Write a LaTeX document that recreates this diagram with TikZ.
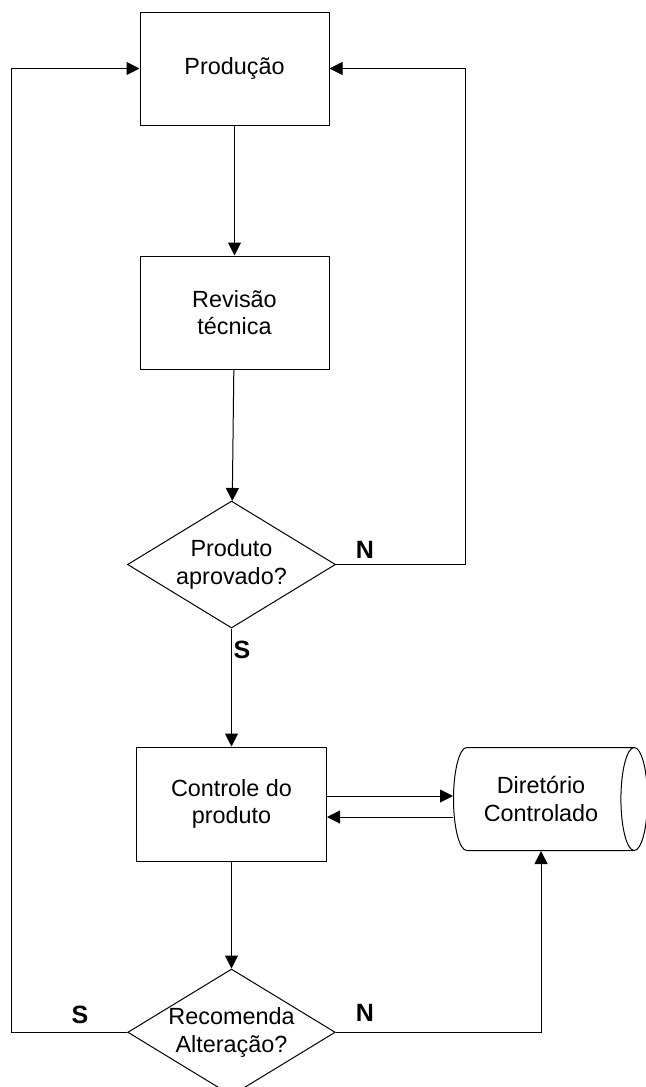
\documentclass[tikz,border=0pt]{standalone}
\usepackage{fontspec}
\setmainfont{Liberation Sans}
\usetikzlibrary{shapes,arrows,positioning,shapes.geometric,arrows.meta,calc}

\begin{document}
\begin{tikzpicture}[
    >={Triangle[length=6.5pt,width=6.5pt]},
    x=0.5pt, y=-0.5pt,
    line width=0.5pt,
    etapa/.style={rectangle, draw=black, fill=white, align=center, minimum width=94.5pt, minimum height=56.5pt, font=\fontsize{11.7}{13.85}\selectfont},
    decisao/.style={diamond, draw=black, fill=white, align=center, aspect=1.64, inner sep=0pt, minimum width=104pt, minimum height=63.5pt, font=\fontsize{11.7}{13.85}\selectfont},
    arquivo/.style={cylinder, draw=black, fill=white, align=center, aspect=0.5, inner sep=2pt, minimum height=97pt, minimum width=51.5pt, font=\fontsize{11.7}{13.85}\selectfont},
    rotulo/.style={font=\fontsize{12.5}{14}\selectfont\bfseries, inner sep=0pt},
    node distance=65pt
  ]
    \useasboundingbox (0,0) rectangle (645,1087);

    \node[etapa] (prod) at (234.5,68.5) {Produção};
    \node[etapa, below=of prod] (rev) {Revisão\\técnica};
    \node[decisao, below=65.5pt of rev, xshift=-1.5pt] (aprov) {Produto\\aprovado?};
    \node[etapa, below=59pt of aprov, minimum width=95pt, minimum height=57pt] (ctrl) {Controle do\\produto};
    \node[decisao, below=53.5pt of ctrl, minimum width=102pt, minimum height=62pt] (recom) {Recomenda\\Alteração?};
    \node[arquivo, right=63pt of ctrl, yshift=2.5pt] (dir) {Diretório\\Controlado};

    \node[rotulo] (n1) at (365,550) {N};
    \node[rotulo] (s1) at (242,650) {S};
    \node[rotulo] (s2) at (80,1015) {S};
    \node[rotulo] (n2) at (365,1013) {N};

    \draw[->] (prod) -- (rev);
    \draw[->] (rev) -- (aprov);
    \draw[->] (aprov) -- (ctrl);
    \draw[->] (ctrl) -- (recom);
    \draw[->] (aprov.east) -| ([xshift=68pt]prod.east) -- (prod.east);
    \draw[->] (recom.west) -| ([xshift=-64pt]prod.west) -- (prod.west);
    \draw[->] (recom.east) -| (dir.south);
    \draw[->] ([yshift=4pt]ctrl.east) -- ([yshift=4pt]ctrl.east -| dir.west);
    \draw[->] ([yshift=-6.5pt]ctrl.east -| dir.west) -- ([yshift=-6.5pt]ctrl.east);
  \end{tikzpicture}
\end{document}
